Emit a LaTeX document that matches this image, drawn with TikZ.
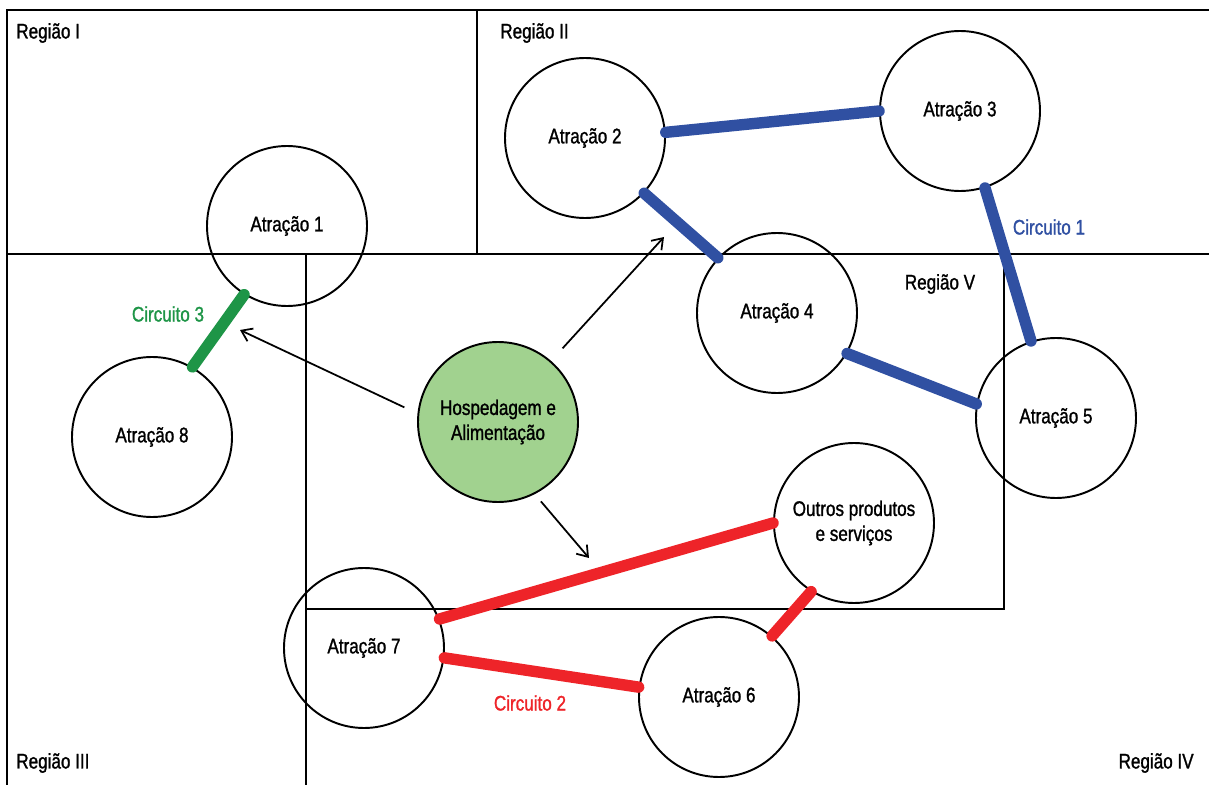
\documentclass[tikz,border=0pt]{standalone}
\usepackage{fontspec}
\setsansfont[FakeStretch=0.81, FakeBold=1.2]{Liberation Sans}
\usepackage{tikz}
\usetikzlibrary{positioning,arrows.meta}
\definecolor{circBlue}{HTML}{3050A2}
\definecolor{circRed}{HTML}{EE2429}
\definecolor{circGreen}{HTML}{1E9547}
\definecolor{hubGreen}{HTML}{A1D28F}
\tikzset{
  attr/.style={circle, draw, line width=1.1pt, minimum size=3.2cm, inner sep=0pt, align=center},
  hub/.style={attr, fill=hubGreen},
%  hubPlain/.style={attr, fill=white},
  regLabel/.style={inner sep=0pt},
  border/.style={line width=1.2pt},
  circuit/.style={line width=6.5pt, line cap=round},
  pointsTo/.style={-{Straight Barb[length=2mm,width=2.8mm]}, line width=1pt}
}

\begin{document}
\begin{tikzpicture}[x=0.2cm, y=-0.2cm, font=\sffamily]
      \fontsize{12}{14.2}\selectfont
      \useasboundingbox (0,0) rectangle (120.9,78.5);
      % regions
      \draw [border] (0.7,78.5) |- (120.9,1.0);
      \draw [border] (0.7,25.4) -- (120.9,25.4);
      \draw [border] (47.7,1.0) -- (47.7,25.4);
      \draw [border] (30.6,25.4) -- (30.6,78.5);
      \draw [border] (30.6,60.9) -| (100.4,25.4);
      \node [regLabel, anchor=west] (r1) at (1.6,3.3) {Região I};
      \node [regLabel, anchor=west] (r2) at (50.0,3.3) {Região II};
      \node [regLabel, anchor=west] (r3) at (1.6,76.3) {Região III};
      \node [regLabel, anchor=east] (r4) at (119.4,76.3) {Região IV};
      \node [regLabel] (r5) at (94.0,28.4) {Região V};
      % attractions
      \node [attr] (a1) at (28.7,22.6) {Atração 1};
      \node [attr] (a2) at (58.5,13.8) {Atração 2};
      \node [attr] (a3) at (96.0,11.1) {Atração 3};
      \node [attr] (a4) at (77.7,31.3) {Atração 4};
      \node [attr] (a5) at (105.6,41.8) {Atração 5};
      \node [attr] (a6) at (71.9,69.7) {Atração 6};
      \node [attr] (a7) at (36.4,64.8) {Atração 7};
      \node [attr] (a8) at (15.2,43.7) {Atração 8};
      \node [attr] (outros) at (85.4,52.3) {Outros produtos\\e serviços};
      \node [hub] (hosp) at (49.8,42.2) {Hospedagem e\\Alimentação};
      % circuits
      \draw [circuit, circBlue] (a2.4) -- (a3.180);
      \draw [circuit, circBlue] (a2.-43) -- (a4.137);
      \draw [circuit, circBlue] (a3.-72) -- (a5.108);
      \draw [circuit, circBlue] (a4.-30) -- (a5.170);
      \draw [circuit, circRed] (a7.21) -- (outros.180);
      \draw [circuit, circRed] (a7.-7) -- (a6.173);
      \draw [circuit, circRed] (outros.-122) -- (a6.49);
      \draw [circuit, circGreen] (a1.-122) -- (a8.60);
      \node [regLabel, text=circBlue] (c1) at (104.9,22.7) {Circuito 1};
      \node [regLabel, text=circRed] (c2) at (53.0,70.3) {Circuito 2};
      \node [regLabel, text=circGreen] (c3) at (16.8,31.4) {Circuito 3};
      % arrows
      \coordinate (t1) at (24.0,33.0);
      \coordinate (t2) at (66.4,23.7);
      \coordinate (t3) at (58.9,55.8);
      \draw [pointsTo, shorten <=0.29cm] (hosp.174) -- (t1);
      \draw [pointsTo, shorten <=0.34cm] (hosp.49) -- (t2);
      \draw [pointsTo, shorten <=0.19cm] (hosp.-63) -- (t3);
    \end{tikzpicture}
\end{document}
